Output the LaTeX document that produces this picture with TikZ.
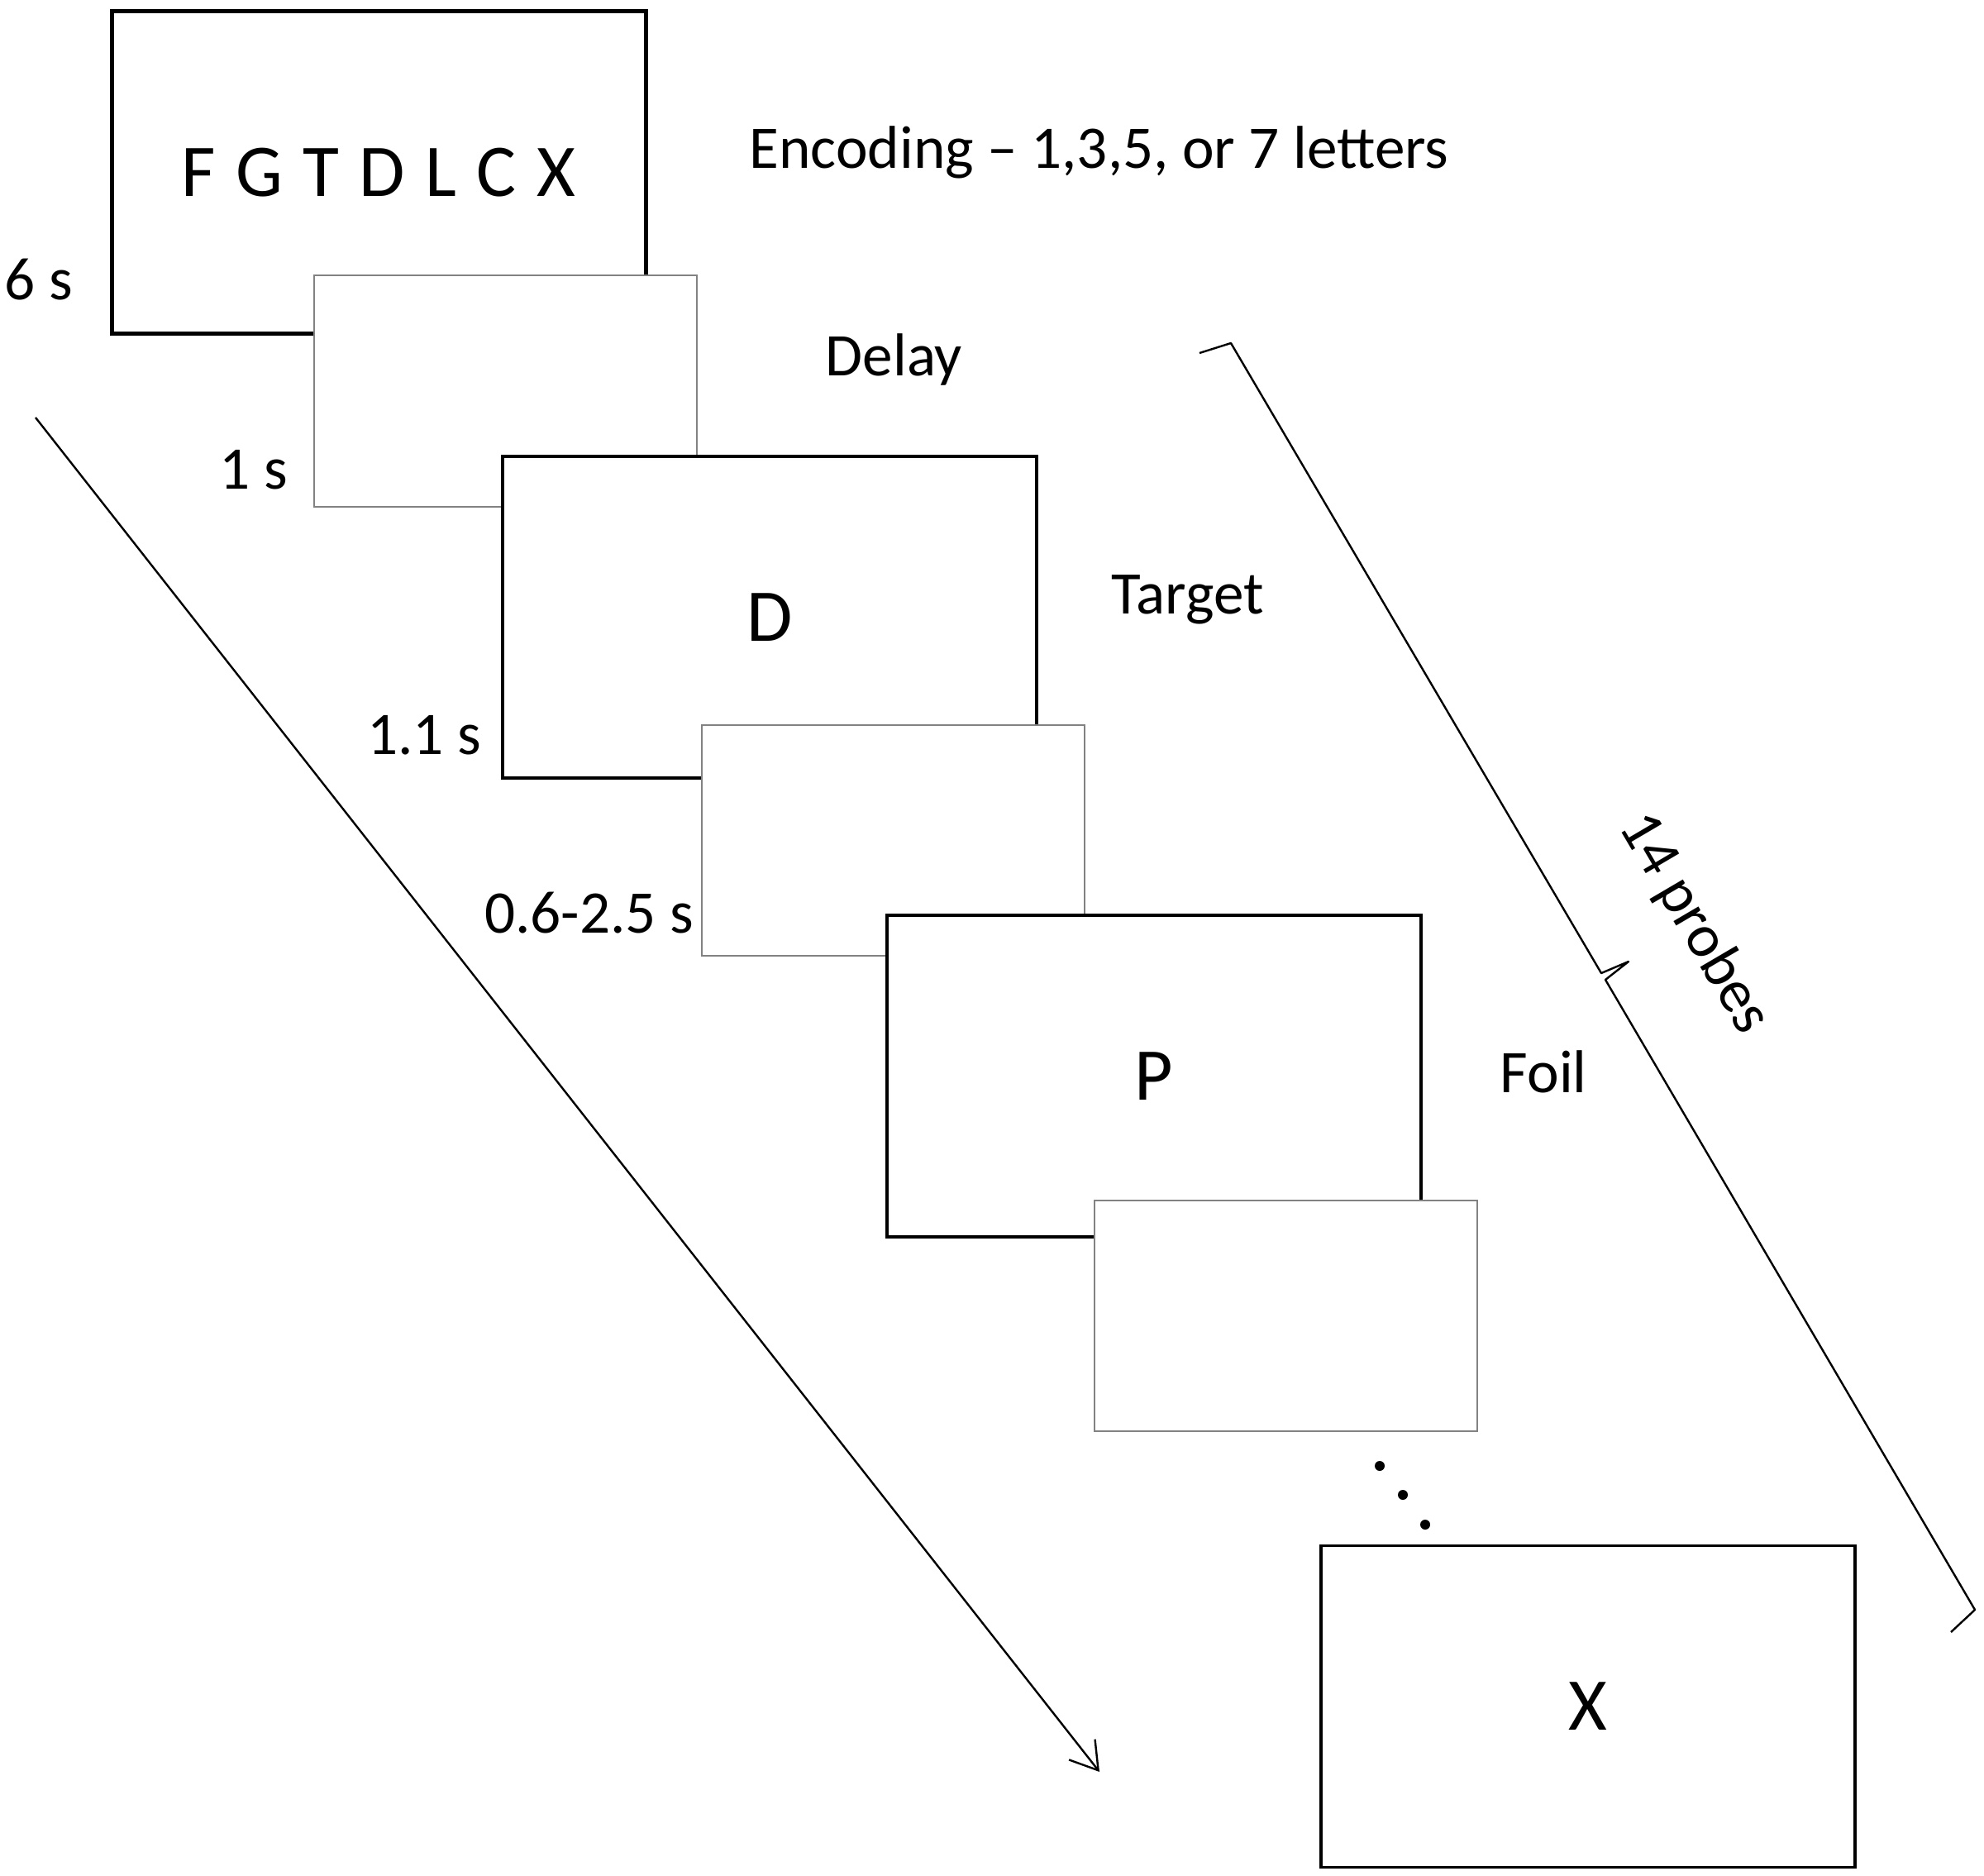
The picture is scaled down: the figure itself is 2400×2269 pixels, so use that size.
\documentclass[tikz,border=0pt]{standalone}
\usepackage{fontspec}
\setmainfont{Carlito}
\usepackage{tikz}
\usetikzlibrary{arrows.meta}

\tikzset{
  letterscreen/.style={draw, fill=white, line width=0.8pt, minimum width=161.5pt, minimum height=97.25pt, inner sep=0pt, font=\fontsize{22.5}{26}\selectfont},
  blankscreen/.style={draw={rgb, 255:red, 130; green, 130; blue, 130}, fill=white, line width=0.5pt, minimum width=115.75pt, minimum height=69.75pt, inner sep=0pt},
  cuetext/.style={inner sep=0pt, font=\fontsize{18.3}{22}\selectfont},
  timetext/.style={inner sep=0pt, anchor=base east, font=\fontsize{18.3}{22}\selectfont},
}

\begin{document}
\begin{tikzpicture}[x=0.25pt,y=0.25pt,yscale=-1,xscale=1]
\useasboundingbox (0,0) rectangle (2400,2269);

%Rectangles (screens, back to front)
\node [letterscreen, line width=1.25pt] (enc) at (458,208.5) {\spaceskip=6.1pt F G T D L C X};
\node [blankscreen] (delay1) at (611,473) {};
\node [letterscreen] (target) at (931,746.5) {D};
\node [blankscreen] (delay2) at (1080,1016.5) {};
\node [letterscreen] (foil) at (1396,1301.5) {P};
\node [blankscreen] (delay3) at (1555,1591) {};
\node [letterscreen] (last) at (1921,2064) {X};

%Text: stage names
\node [cuetext, anchor=base west] (enccue) at (906,204) {Encoding – 1,3,5, or 7 letters};
\node [cuetext, anchor=base west] (delaycue) at (998,455) {Delay};
\node [cuetext, anchor=base west] (targetcue) at (1344,742) {Target};
\node [cuetext, anchor=base west] (foilcue) at (1814,1321) {Foil};

%Text: durations
\node [timetext] (enctime) at (89,363) {6 s};
\node [timetext] (delaytime) at (349,591) {1 s};
\node [timetext] (targettime) at (583,912) {1.1 s};
\node [timetext] (jittertime) at (840,1128) {0.6-2.5 s};

%Dots
\fill (1669,1773) circle [radius=1.5pt];
\fill (1697,1808) circle [radius=1.5pt];
\fill (1724,1844) circle [radius=1.5pt];

%Straight Lines: time axis
\coordinate (tstart) at (43,505);
\coordinate (tend) at (1330,2143);
\draw [line width=0.6pt, -{Straight Barb[length=8pt,width=10pt,line width=0.6pt]}] (tstart) -- (tend);

%Brace: probes
\coordinate (btophook) at (1451,427);
\coordinate (btop) at (1489,415);
\coordinate (bmidup) at (1937,1177);
\coordinate (btip) at (1970,1163);
\coordinate (bmiddown) at (1942,1185);
\coordinate (bbot) at (2389,1947);
\coordinate (bbothook) at (2360,1974);
\draw [line width=0.6pt, line join=round] (btophook) -- (btop) -- (bmidup) -- (btip) -- (bmiddown) -- (bbot) -- (bbothook);
\node [cuetext, rotate=-59.6] (probes) at (2049,1117) {14 probes};

\end{tikzpicture}
\end{document}
